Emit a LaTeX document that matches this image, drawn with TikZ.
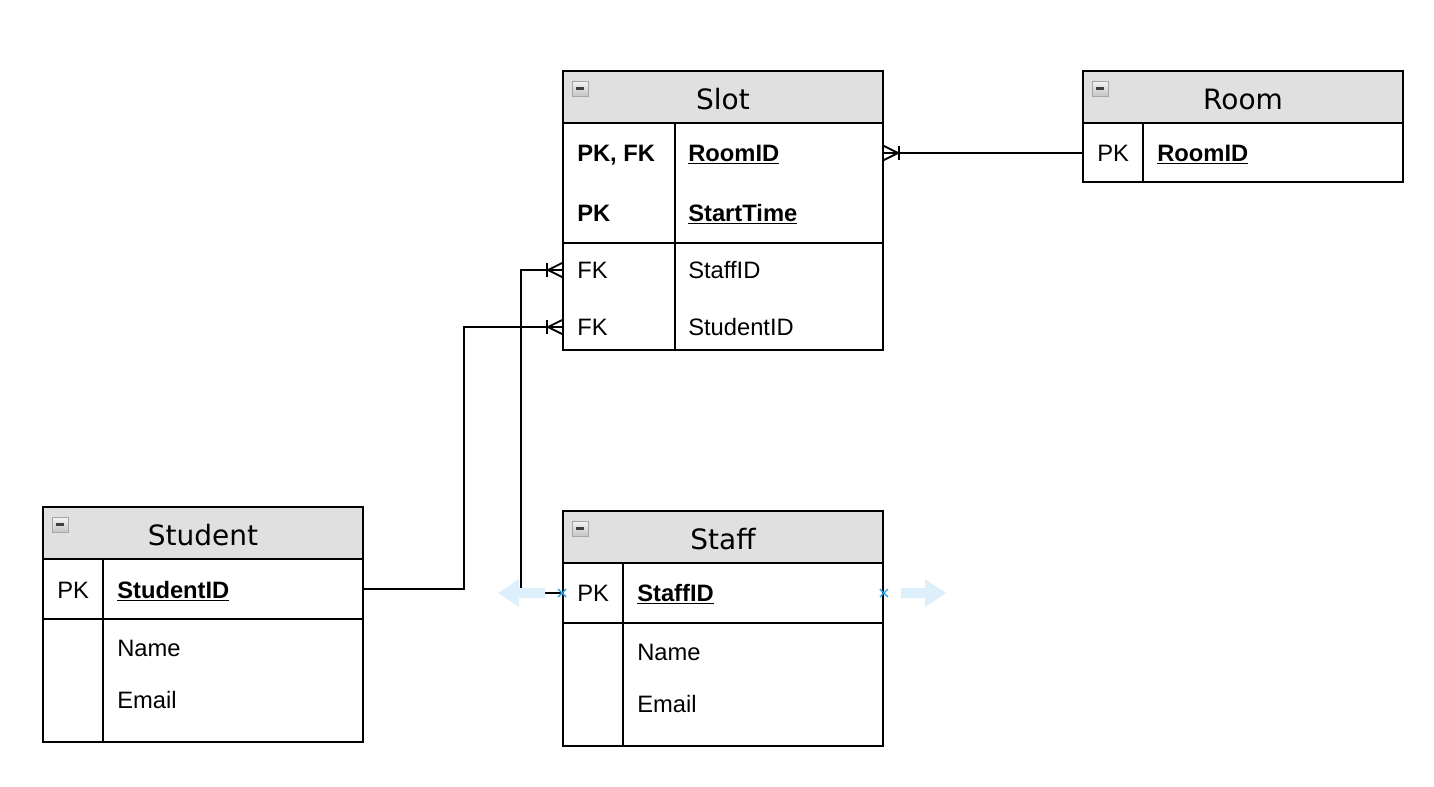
\documentclass[tikz,border=0pt]{standalone}
\usepackage{fontspec}
\setmainfont{Liberation Sans}
\newfontfamily\hdrfont{DejaVu Sans}
\usepackage{tikz}
\usetikzlibrary{calc}
\definecolor{hdrgray}{RGB}{224,224,224}
\definecolor{selblue}{RGB}{41,163,232}
\definecolor{ghost}{RGB}{222,239,252}
\newcommand{\key}[1]{\textbf{\underline{#1}}}
% crow's foot (one or many) at #1, opening towards the table, #2 = side of the line
\newcommand{\crowfoot}[2]{%
  \draw[rel] (#1) ++(0,-7) -- ++(#2*14,7) -- ++(-#2*14,7);
  \draw[rel] (#1) ++(#2*15,-7) -- ++(0,14);}

\begin{document}
\begin{tikzpicture}[x=0.75pt,y=-0.75pt,
  hdr/.style={draw,fill=hdrgray,line width=1.4pt,minimum width=240pt,
    minimum height=39pt,inner sep=0pt,text height=18.5pt,text depth=0pt,
    font=\hdrfont\fontsize{21}{24}\selectfont},
  sec/.style={draw,line width=1.4pt,minimum width=240pt,inner sep=0pt},
  fld/.style={anchor=west,inner sep=0pt,text height=12.8pt,text depth=0pt,
    font=\fontsize{17.8}{20}\selectfont},
  rel/.style={line width=1.4pt},
  icon/.style={draw=gray!70,top color=gray!8,bottom color=gray!45,line width=0.6pt}]
  \useasboundingbox (0,0) rectangle (1434,786);

  % Slot
  \node[hdr] (slot) at (723,97) {Slot};
  \node[sec,minimum height=90pt] (slotk) at (723,183) {};
  \node[sec,minimum height=80.25pt] (slota) at (723,296.5) {};
  \draw[rel] (675,123) -- (675,350);
  \node[fld] (spk1) at (577,153) {\textbf{PK, FK}};
  \node[fld] (srid) at (688,153) {\key{RoomID}};
  \node[fld] (spk2) at (577,213) {\textbf{PK}};
  \node[fld] (sst) at (688,213) {\key{StartTime}};
  \node[fld] (sfk1) at (577,270) {FK};
  \node[fld] (ssid) at (688,270) {StaffID};
  \node[fld] (sfk2) at (577,327) {FK};
  \node[fld] (sstu) at (688,327) {StudentID};

  % Room
  \node[hdr] (room) at (1243,97) {Room};
  \node[sec,minimum height=44.25pt] (roomk) at (1243,152.5) {};
  \draw[rel] (1143,123) -- (1143,182);
  \node[fld] (rpk) at (1097,153) {PK};
  \node[fld] (rrid) at (1157,153) {\key{RoomID}};

  % Student
  \node[hdr] (stud) at (203,533) {Student};
  \node[sec,minimum height=45pt] (studk) at (203,589) {};
  \node[sec,minimum height=92.25pt] (studa) at (203,680.5) {};
  \draw[rel] (103,559) -- (103,742);
  \node[fld] (tpk) at (57,590) {PK};
  \node[fld] (tsid) at (117,590) {\key{StudentID}};
  \node[fld] (tname) at (117,648) {Name};
  \node[fld] (tmail) at (117,700) {Email};

  % Staff
  \node[hdr] (staff) at (723,537) {Staff};
  \node[sec,minimum height=45pt] (staffk) at (723,593) {};
  \node[sec,minimum height=92.25pt] (staffa) at (723,684.5) {};
  \draw[rel] (623,563) -- (623,746);
  \node[fld] (fpk) at (577,593) {PK};
  \node[fld] (fsid) at (637,593) {\key{StaffID}};
  \node[fld] (fname) at (637,652) {Name};
  \node[fld] (fmail) at (637,704) {Email};

  % collapse icons
  \foreach \x/\y in {572/81,1092/81,52/517,572/521} {
    \draw[icon] (\x,\y) rectangle ++(16,15);
    \draw[line width=1.6pt,black!75] (\x+4,\y+7.5) -- (\x+12,\y+7.5);
  }

  % relationships
  \draw[rel] (roomk.west |- rrid) -- (slotk.east |- srid);
  \crowfoot{slotk.east |- srid}{1}
  \draw[rel] (staffk.west) -- ++(-41,0) |- (slota.west |- ssid);
  \crowfoot{slota.west |- ssid}{-1}
  \draw[rel] (studk.east) -- ++(100,0) |- (slota.west |- sstu);
  \crowfoot{slota.west |- sstu}{-1}

  % selection handles
  \fill[ghost] (545,588) -- (519,588) -- (519,579) -- (498,593)
    -- (519,607) -- (519,598) -- (545,598) -- cycle;
  \fill[ghost] (901,588) -- (925,588) -- (925,579) -- (946,593)
    -- (925,607) -- (925,598) -- (901,598) -- cycle;
  \foreach \p in {staffk.west,staffk.east}
    \draw[selblue,line width=1pt] ($(\p)+(-4,-4)$) -- ++(8,8)
      ($(\p)+(-4,4)$) -- ++(8,-8);
\end{tikzpicture}
\end{document}
